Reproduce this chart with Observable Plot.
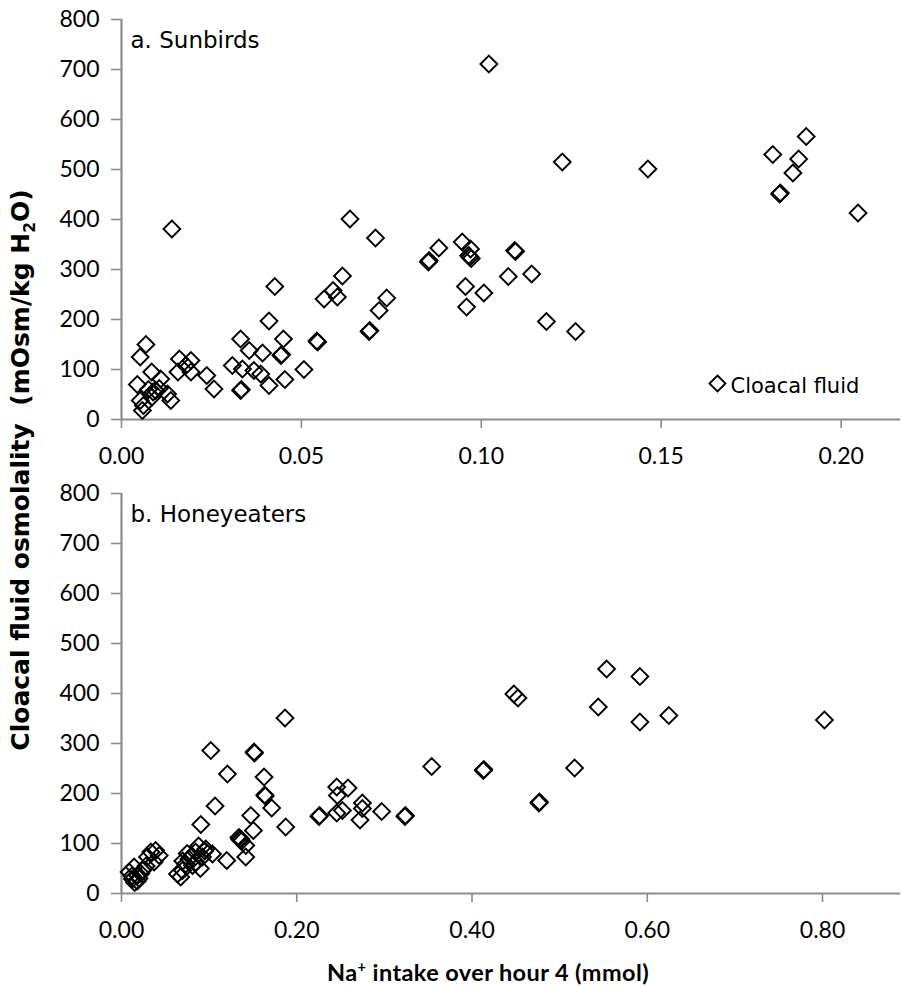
<!DOCTYPE html>
<html>
<head>
<meta charset="utf-8">
<script src="https://cdn.jsdelivr.net/npm/d3@7"></script>
<script src="https://cdn.jsdelivr.net/npm/@observablehq/plot@0.6"></script>
<style>
  body { margin: 0; background: #fff; }
  #wrap { position: relative; width: 902px; height: 987px; background: #fff; font-family: "DejaVu Sans", sans-serif; color: #000; overflow: hidden; }
  #top, #bot { position: absolute; left: 0; }
  #top { top: 0; }
  #bot { top: 464px; }
  .lab { position: absolute; white-space: nowrap; font-weight: bold; }
  #ylab { left: 22px; top: 470px; font-size: 25px; font-family: "DejaVu Sans", sans-serif; transform: translate(-50%, -50%) rotate(-90deg); }
  #xlab { left: 488px; top: 972px; font-size: 23.5px; letter-spacing: 0.4px; font-family: Lato, "DejaVu Sans", sans-serif; transform: translate(-50%, -50%); }
  sub { font-size: 62%; }
  sup { font-size: 62%; }
</style>
</head>
<body>
<div id="wrap">
  <div id="top"></div>
  <div id="bot"></div>
  <div id="ylab" class="lab">Cloacal fluid osmolality&nbsp; (mOsm/kg H<sub>2</sub>O)</div>
  <div id="xlab" class="lab">Na<sup>+</sup> intake over hour 4 (mmol)</div>
</div>
<script>
// a. Sunbirds: Na+ intake (mmol) and cloacal fluid osmolality (mOsm/kg H2O)
const sunbirdX = [0.0068,0.0052,0.0044,0.0084,0.0109,0.0095,0.0088,0.0105,0.0075,0.0085,0.0052,0.0058,0.0061,0.0128,0.0137,0.0161,0.0157,0.0179,0.0193,0.0193,0.0237,0.0257,0.0140,0.0331,0.0355,0.0392,0.0308,0.0336,0.0331,0.0333,0.0368,0.0387,0.0410,0.0410,0.0426,0.0450,0.0443,0.0445,0.0454,0.0507,0.0543,0.0545,0.0563,0.0588,0.0600,0.0614,0.0635,0.0688,0.0690,0.0716,0.0706,0.0737,0.1021,0.1225,0.0882,0.0853,0.0855,0.0947,0.0970,0.0968,0.0965,0.0972,0.1093,0.1095,0.0956,0.1007,0.0959,0.1075,0.1140,0.1181,0.1262,0.1463,0.1810,0.1903,0.1882,0.1866,0.1829,0.1831,0.2047];
const sunbirdY = [150,125,70,95,81,58,55,62,60,45,38,18,28,51,38,121,95,108,118,95,88,61,381,161,138,133,108,101,58,60,98,91,68,197,266,161,128,130,80,100,157,155,241,258,245,287,401,176,178,218,363,243,711,515,343,315,318,355,341,325,328,322,338,336,266,253,225,286,291,196,176,501,530,566,521,493,451,453,413];

// b. Honeyeaters
const honeyX = [0.1866,0.1019,0.1513,0.1518,0.1209,0.1627,0.1635,0.1640,0.1714,0.1068,0.1475,0.1874,0.0905,0.1505,0.1361,0.1340,0.1370,0.1350,0.1418,0.1418,0.1201,0.2456,0.2585,0.2464,0.2254,0.2260,0.2456,0.2521,0.2749,0.2749,0.2722,0.2969,0.3235,0.3240,0.3540,0.5536,0.5916,0.4478,0.4524,0.5441,0.5916,0.6246,0.8022,0.4129,0.4135,0.5171,0.4764,0.4770,0.0390,0.0335,0.0297,0.0430,0.0372,0.0144,0.0087,0.0182,0.0240,0.0125,0.0150,0.0180,0.0200,0.0220,0.0120,0.0280,0.0962,0.0847,0.0924,0.0771,0.0733,0.0810,0.0696,0.0639,0.0676,0.1038,0.0880,0.0800,0.0750,0.0850,0.0950,0.0900,0.0700];
const honeyY = [351,286,283,281,239,233,197,195,171,175,156,133,138,126,109,112,105,108,96,73,66,213,211,196,154,156,161,166,181,170,147,164,154,156,254,449,434,399,391,373,343,356,347,246,248,251,181,183,86,83,73,76,63,53,43,36,46,29,22,25,30,40,35,55,89,83,73,69,59,56,46,39,33,79,95,75,80,62,85,50,65];

const yTicks = [0,100,200,300,400,500,600,700,800];
const topXTicks = [0,0.05,0.10,0.15,0.20];
const botXTicks = [0,0.20,0.40,0.60,0.80];
const seriesName = "Cloacal fluid";
const panelA = "a. Sunbirds";
const panelB = "b. Honeyeaters";

const axisGray = "#8c8c8c";
const tickFont = "Lato, 'DejaVu Sans', sans-serif";
const textFont = "'DejaVu Sans', sans-serif";

function panel({xs, ys, xDomain, xTicks, label, legend, marginTop, height}) {
  const data = xs.map((x, i) => ({x, y: ys[i]}));
  const marks = [
    Plot.ruleY([0], {stroke: axisGray, strokeWidth: 2.2}),
    Plot.ruleX([0], {stroke: axisGray, strokeWidth: 2.2}),
    Plot.axisY({ticks: yTicks, tickSize: 10, tickPadding: 12, stroke: axisGray, strokeWidth: 1.6, label: null, tickFormat: d3.format("d"), fill: "#000"}),
    Plot.axisX({ticks: xTicks, tickSize: 9, tickPadding: 19, stroke: axisGray, strokeWidth: 1.6, label: null, tickFormat: d3.format(".2f"), fill: "#000"}),
    Plot.dot(data, {x: "x", y: "y", symbol: "diamond2", r: 7.6, stroke: "#000", strokeWidth: 1.9, fill: "none"}),
    Plot.text([label], {frameAnchor: "top-left", dx: 9, dy: 12, fontSize: 23, fontFamily: textFont, fill: "#000", textAnchor: "start"})
  ];
  if (legend) {
    marks.push(Plot.dot([seriesName], {frameAnchor: "bottom-right", dx: -183, dy: -36, symbol: "diamond2", r: 7.2, stroke: "#000", strokeWidth: 1.9, fill: "none"}));
    marks.push(Plot.text([seriesName], {frameAnchor: "bottom-right", dx: -170, dy: -33, lineAnchor: "middle", fontSize: 21, fontFamily: textFont, fill: "#000", textAnchor: "start"}));
  }
  return Plot.plot({
    width: 902,
    height,
    marginLeft: 121,
    marginRight: 2,
    marginTop,
    marginBottom: height - marginTop - 400,
    style: {fontFamily: tickFont, fontSize: "23px", background: "transparent", color: "#000", overflow: "visible"},
    x: {domain: xDomain},
    y: {domain: [0, 800]},
    marks
  });
}

document.getElementById("top").append(panel({xs: sunbirdX, ys: sunbirdY, xDomain: [0, 0.2165], xTicks: topXTicks, label: panelA, legend: true, marginTop: 19, height: 464}));
document.getElementById("bot").append(panel({xs: honeyX, ys: honeyY, xDomain: [0, 0.889], xTicks: botXTicks, label: panelB, legend: false, marginTop: 29, height: 523}));
</script>
</body>
</html>
